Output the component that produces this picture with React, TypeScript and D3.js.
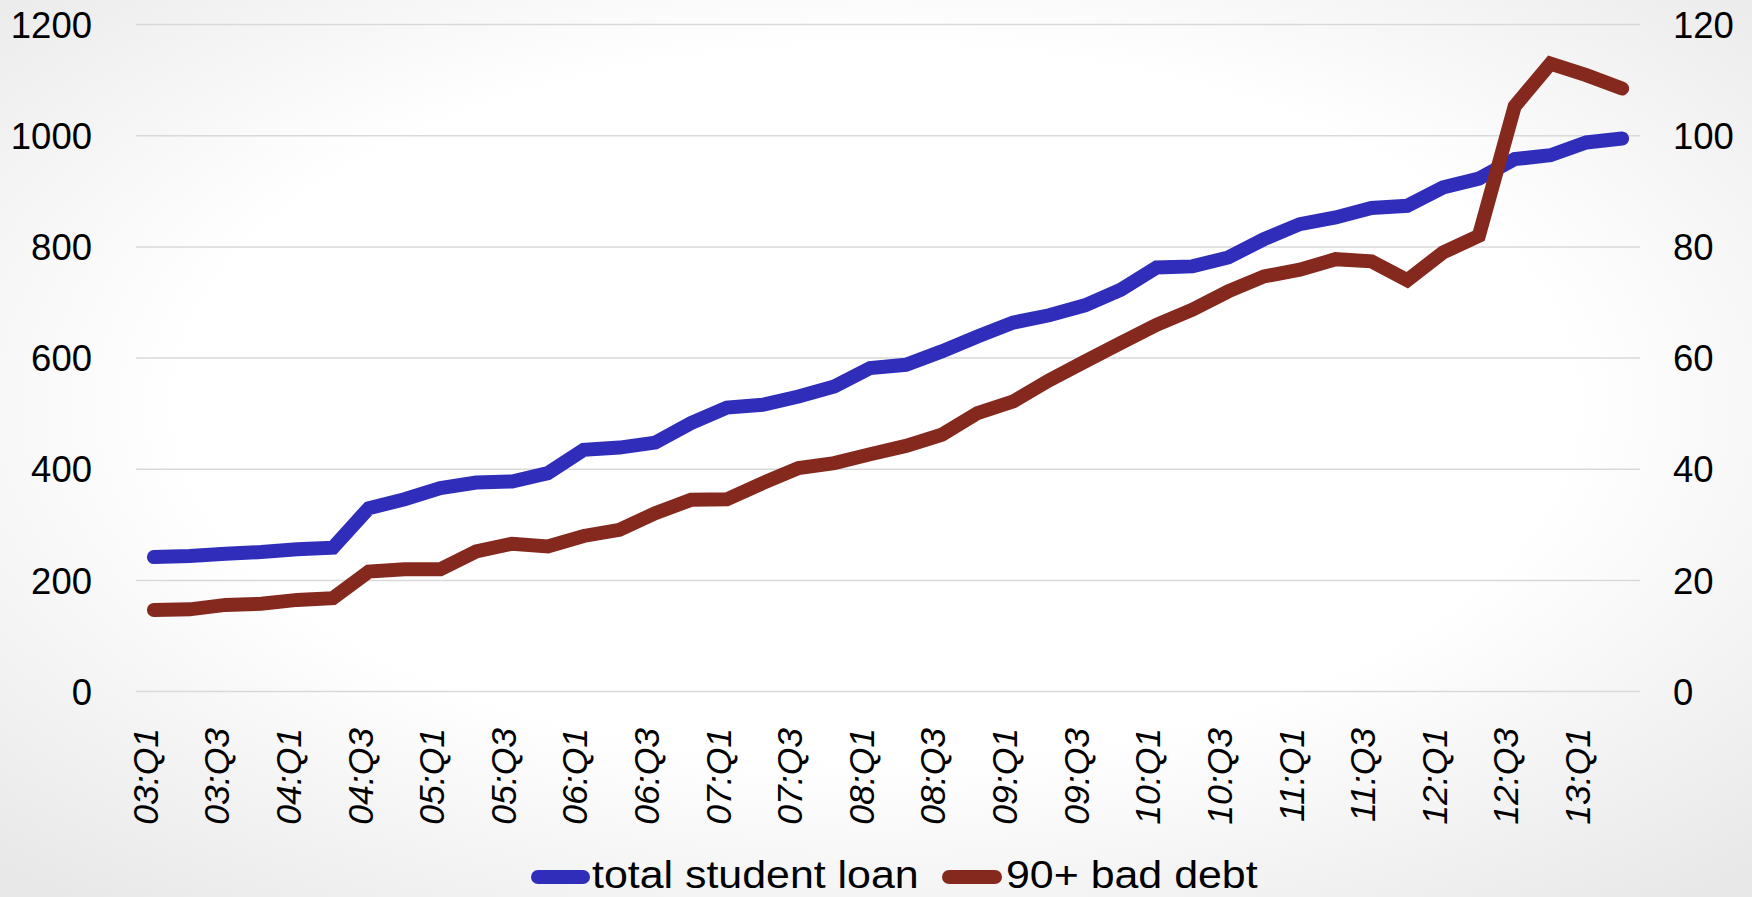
import React from "react";
import * as d3 from "d3";

// Quarterly categories, 2003 Q1 through 2013 Q2
const quarters = [
  "03:Q1", "03:Q2", "03:Q3", "03:Q4",
  "04:Q1", "04:Q2", "04:Q3", "04:Q4",
  "05:Q1", "05:Q2", "05:Q3", "05:Q4",
  "06:Q1", "06:Q2", "06:Q3", "06:Q4",
  "07:Q1", "07:Q2", "07:Q3", "07:Q4",
  "08:Q1", "08:Q2", "08:Q3", "08:Q4",
  "09:Q1", "09:Q2", "09:Q3", "09:Q4",
  "10:Q1", "10:Q2", "10:Q3", "10:Q4",
  "11:Q1", "11:Q2", "11:Q3", "11:Q4",
  "12:Q1", "12:Q2", "12:Q3", "12:Q4",
  "13:Q1", "13:Q2",
];

// Total student loan balance (left axis)
const totalStudentLoan = [
  242, 244, 248, 251, 256, 259, 330, 346, 366, 376,
  378, 393, 435, 439, 448, 483, 511, 516, 531, 549,
  582, 588, 612, 639, 664, 677, 695, 723, 763, 765,
  781, 814, 841, 853, 870, 874, 907, 923, 958, 965,
  988, 995,
];

// 90+ days delinquent balance (right axis)
const badDebt90 = [
  14.7, 14.8, 15.6, 15.8, 16.5, 16.8, 21.6, 22.0, 22.0, 25.2,
  26.6, 26.1, 28.0, 29.1, 32.1, 34.5, 34.6, 37.5, 40.2, 41.1,
  42.7, 44.2, 46.2, 50.1, 52.2, 56.0, 59.4, 62.7, 66.0, 68.7,
  72.0, 74.7, 75.9, 77.8, 77.4, 74.0, 79.0, 82.0, 105.3, 113.0,
  110.9, 108.5,
];

const leftTicks = [0, 200, 400, 600, 800, 1000, 1200];
const rightTicks = [0, 20, 40, 60, 80, 100, 120];
const xTickLabels = quarters.filter((_, i) => i % 2 === 0);

const seriesNames = ["total student loan", "90+ bad debt"];
const seriesColors = ["#2F2DB9", "#85291E"];

const W = 1752;
const H = 897;
const FONT = "'Liberation Sans', Arial, sans-serif";

export default function App() {
  const x = d3.scaleBand<string>().domain(quarters).range([136, 1640]).padding(0);
  const xc = (q: string) => (x(q) as number) + x.bandwidth() / 2;
  const yL = d3.scaleLinear().domain([0, 1200]).range([691.6, 24.6]);
  const yR = d3.scaleLinear().domain([0, 120]).range([691.6, 24.6]);

  const lineL = d3
    .line<number>()
    .x((_, i) => xc(quarters[i]))
    .y((d) => yL(d));
  const lineR = d3
    .line<number>()
    .x((_, i) => xc(quarters[i]))
    .y((d) => yR(d));

  const [x0, x1] = x.range();

  return (
    <svg
      width={W}
      height={H}
      style={{ position: "absolute", left: 0, top: 0, display: "block" }}
      fontFamily={FONT}
    >
      <defs>
        <radialGradient id="bg" cx="50%" cy="45%" r="72%">
          <stop offset="0%" stopColor="#ffffff" />
          <stop offset="55%" stopColor="#ffffff" />
          <stop offset="100%" stopColor="#e8e8e8" />
        </radialGradient>
      </defs>
      <rect x={0} y={0} width={W} height={H} fill="url(#bg)" />

      {/* horizontal gridlines */}
      {leftTicks.map((t) => (
        <line
          key={"g" + t}
          x1={x0}
          x2={x1}
          y1={yL(t)}
          y2={yL(t)}
          stroke="#d9d9d9"
          strokeWidth={1.5}
        />
      ))}

      {/* left axis labels */}
      {leftTicks.map((t) => (
        <text
          key={"l" + t}
          x={92}
          y={yL(t)}
          dy="0.36em"
          textAnchor="end"
          fontSize={36.5}
          fill="#000"
        >
          {t}
        </text>
      ))}

      {/* right axis labels */}
      {rightTicks.map((t) => (
        <text
          key={"r" + t}
          x={1673}
          y={yR(t)}
          dy="0.36em"
          textAnchor="start"
          fontSize={36.5}
          fill="#000"
        >
          {t}
        </text>
      ))}

      {/* category labels, rotated */}
      {xTickLabels.map((q) => (
        <text
          key={"x" + q}
          transform={`translate(${xc(q) - 9},728) rotate(-90)`}
          dy="0.36em"
          textAnchor="end"
          fontSize={35.5}
          fontStyle="italic"
          fill="#000"
        >
          {q}
        </text>
      ))}

      {/* series lines */}
      <path
        d={lineL(totalStudentLoan) || ""}
        fill="none"
        stroke={seriesColors[0]}
        strokeWidth={14}
        strokeLinecap="round"
        strokeLinejoin="miter"
      />
      <path
        d={lineR(badDebt90) || ""}
        fill="none"
        stroke={seriesColors[1]}
        strokeWidth={14}
        strokeLinecap="round"
        strokeLinejoin="miter"
      />

      {/* legend */}
      <g>
        <line x1={538} x2={583} y1={877} y2={877} stroke={seriesColors[0]} strokeWidth={14} strokeLinecap="round" />
        <text transform="translate(592,888) scale(1.1,1)" fontSize={39} fill="#000">{seriesNames[0]}</text>
        <line x1={949} x2={995} y1={877} y2={877} stroke={seriesColors[1]} strokeWidth={14} strokeLinecap="round" />
        <text transform="translate(1006,888) scale(1.1,1)" fontSize={39} fill="#000">{seriesNames[1]}</text>
      </g>
    </svg>
  );
}
